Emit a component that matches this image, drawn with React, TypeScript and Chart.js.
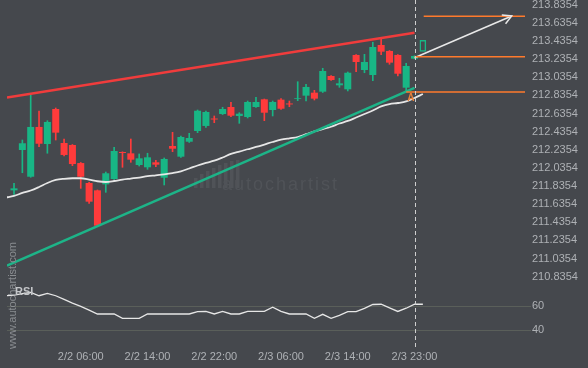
import { useEffect, useRef } from 'react';
import { Chart, registerables } from 'chart.js';

Chart.register(...registerables);

// ---------- data ----------
const TIME_LABELS = ['2/2 06:00', '2/2 14:00', '2/2 22:00', '2/3 06:00', '2/3 14:00', '2/3 23:00'];
const TIME_LABEL_INDEX = [8, 16, 24, 32, 40, 48];
const PRICE_TICKS = [213.8354, 213.6354, 213.4354, 213.2354, 213.0354, 212.8354, 212.6354, 212.4354, 212.2354, 212.0354, 211.8354, 211.6354, 211.4354, 211.2354, 211.0354, 210.8354];
const RSI_TICKS = [60, 40];

const OPEN = [211.788, 212.233, 211.938, 212.487, 212.299, 212.685, 212.310, 212.288, 212.089, 211.869, 211.788, 211.854, 211.913, 212.211, 212.196, 212.067, 212.042, 212.097, 211.927, 212.277, 212.159, 212.324, 212.442, 212.498, 212.580, 212.630, 212.707, 212.608, 212.597, 212.707, 212.792, 212.674, 212.788, 212.746, 212.798, 212.832, 212.865, 212.876, 213.049, 212.946, 212.902, 213.281, 213.115, 213.060, 213.391, 213.325, 213.281, 212.920, 213.240];
const HIGH = [211.866, 212.343, 212.839, 212.663, 212.556, 212.696, 212.354, 212.293, 212.095, 211.875, 211.792, 211.990, 212.263, 212.213, 212.354, 212.189, 212.197, 212.119, 212.145, 212.428, 212.387, 212.417, 212.674, 212.663, 212.608, 212.704, 212.759, 212.644, 212.773, 212.814, 212.795, 212.773, 212.799, 212.773, 212.986, 212.957, 212.891, 213.134, 213.054, 213.024, 213.093, 213.286, 213.288, 213.421, 213.460, 213.330, 213.286, 213.189, 213.272];
const LOW = [211.744, 211.982, 211.932, 212.269, 212.197, 212.343, 212.167, 212.060, 211.810, 211.645, 211.395, 211.766, 211.907, 212.042, 212.097, 212.056, 212.020, 212.049, 211.847, 212.214, 212.150, 212.316, 212.424, 212.483, 212.534, 212.624, 212.600, 212.527, 212.586, 212.702, 212.556, 212.608, 212.679, 212.710, 212.777, 212.773, 212.784, 212.867, 213.000, 212.924, 212.884, 213.096, 213.085, 212.997, 213.284, 213.178, 213.049, 212.884, 213.238];
const CLOSE = [211.810, 212.307, 212.487, 212.302, 212.542, 212.424, 212.178, 212.078, 211.938, 211.663, 211.398, 211.976, 212.222, 212.200, 212.126, 212.141, 212.152, 212.071, 212.134, 212.247, 212.376, 212.365, 212.666, 212.652, 212.569, 212.685, 212.611, 212.633, 212.762, 212.762, 212.644, 212.762, 212.688, 212.735, 212.806, 212.928, 212.799, 213.104, 213.005, 212.968, 213.085, 213.203, 213.203, 213.369, 213.317, 213.196, 213.074, 213.159, 213.270];

// moving average and RSI, from index -1 to 49
const SERIES_START = -1;
const MOVING_AVG = [211.709, 211.726, 211.759, 211.786, 211.825, 211.869, 211.902, 211.915, 211.921, 211.921, 211.907, 211.888, 211.880, 211.891, 211.907, 211.918, 211.929, 211.944, 211.954, 211.965, 211.979, 211.998, 212.029, 212.062, 212.090, 212.115, 212.150, 212.189, 212.216, 212.241, 212.266, 212.293, 212.321, 212.346, 212.362, 212.376, 212.407, 212.437, 212.464, 212.489, 212.525, 212.553, 212.591, 212.630, 212.668, 212.713, 212.740, 212.751, 212.768, 212.806, 212.850];
const RSI_VALUES = [68.8, 69.3, 70.6, 71.5, 68.8, 70.8, 68.8, 65.8, 62.6, 59.9, 56.8, 53.6, 53.6, 53.6, 50.0, 50.0, 50.0, 53.6, 53.6, 53.6, 53.6, 53.6, 53.6, 55.6, 55.8, 53.6, 55.8, 53.6, 53.6, 55.8, 55.8, 55.8, 59.2, 55.8, 53.6, 53.6, 53.6, 50.0, 53.3, 50.0, 52.5, 55.5, 55.5, 58.2, 61.5, 61.7, 58.7, 55.7, 58.4, 61.7, 61.7];

const RESISTANCE_X = [-0.84, 48];
const RESISTANCE_Y = [212.812, 213.526];
const SUPPORT_X = [-0.84, 48];
const SUPPORT_Y = [210.957, 212.917];

const LEVEL_VALUES = [213.707, 213.262, 212.873];
const LEVEL_START = [49.1, 48, 47];

const FORECAST_X = 49;
const FORECAST_RANGE = [213.317, 213.446];

const ARROW_X = [48, 59.65];
const ARROW_Y = [213.25, 213.711];

const NOW_INDEX = 48;
const MARKER = { x: 47.55, y: 212.80, text: 'A' };

// ---------- styles ----------
const BG = '#45484d';
const GREEN = '#18b685';
const RED = '#ff3b3b';
const ORANGE = '#ff7a2c';
const TEXT = '#aeb1b5';
const FONT = "'Liberation Sans', Arial, sans-serif";
const XMIN = -0.84;
const XMAX = 61.24;

export default function App() {
  const ref = useRef<HTMLCanvasElement | null>(null);

  useEffect(() => {
    document.body.style.margin = '0';
    document.body.style.background = BG;
    const canvas = ref.current;
    if (!canvas) return;

    const idx = OPEN.map((_, i) => i);
    const colors = idx.map((i) => (CLOSE[i] >= OPEN[i] ? GREEN : RED));

    const extras = {
      id: 'extras',
      beforeDatasetsDraw(chart: any) {
        const ctx = chart.ctx;
        ctx.save();
        // watermark logo bars
        ctx.fillStyle = '#505358';
        const heights = [10, 14, 17, 20, 23, 25, 27, 28];
        heights.forEach((h, k) => {
          ctx.fillRect(194 + k * 6, 188 - h, 3.5, h);
        });
        ctx.font = `18px ${FONT}`;
        (ctx as any).letterSpacing = '2px';
        ctx.textBaseline = 'alphabetic';
        ctx.textAlign = 'left';
        ctx.fillText('autochartist', 222, 190);
        (ctx as any).letterSpacing = '0px';
        ctx.restore();
      },
      afterDatasetsDraw(chart: any) {
        const ctx = chart.ctx;
        const xs = chart.scales.x;
        const ys = chart.scales.y;
        ctx.save();
        // dashed "now" line
        const nx = Math.round(xs.getPixelForValue(NOW_INDEX)) + 0.5;
        ctx.strokeStyle = '#cfcfcf';
        ctx.lineWidth = 1;
        ctx.setLineDash([4, 3]);
        ctx.beginPath();
        ctx.moveTo(nx, 0);
        ctx.lineTo(nx, chart.chartArea.bottom + 5);
        ctx.stroke();
        ctx.setLineDash([]);
        // arrow head
        const sx = xs.getPixelForValue(ARROW_X[0]);
        const sy = ys.getPixelForValue(ARROW_Y[0]);
        const tx = xs.getPixelForValue(ARROW_X[1]);
        const ty = ys.getPixelForValue(ARROW_Y[1]);
        const ang = Math.atan2(ty - sy, tx - sx);
        ctx.strokeStyle = '#e8e8e8';
        ctx.lineWidth = 1.5;
        ctx.beginPath();
        ctx.moveTo(tx - 10 * Math.cos(ang - 0.5), ty - 10 * Math.sin(ang - 0.5));
        ctx.lineTo(tx, ty);
        ctx.lineTo(tx - 10 * Math.cos(ang + 0.5), ty - 10 * Math.sin(ang + 0.5));
        ctx.stroke();
        // pattern marker
        ctx.fillStyle = '#e8803a';
        ctx.font = `bold 10px ${FONT}`;
        ctx.textAlign = 'center';
        ctx.textBaseline = 'middle';
        ctx.fillText(MARKER.text, xs.getPixelForValue(MARKER.x), ys.getPixelForValue(MARKER.y));
        // vertical site text
        ctx.save();
        ctx.translate(13, 349);
        ctx.rotate(-Math.PI / 2);
        ctx.fillStyle = '#8a8d91';
        ctx.font = `11px ${FONT}`;
        ctx.textAlign = 'left';
        ctx.textBaseline = 'middle';
        ctx.fillText('www.autochartist.com', 0, 0);
        ctx.restore();
        // RSI label
        ctx.fillStyle = '#c4c6c9';
        ctx.font = `bold 11px ${FONT}`;
        ctx.textAlign = 'left';
        ctx.textBaseline = 'middle';
        ctx.fillText('RSI', 15, 292);
        ctx.restore();
      },
    };

    const lineBase = { type: 'line', pointRadius: 0, pointHoverRadius: 0, tension: 0, xAxisID: 'x' };

    const chart = new Chart(canvas, {
      type: 'bar',
      data: {
        datasets: [
          { ...lineBase, label: 'resistance', yAxisID: 'y', order: 1, borderColor: '#f03c3c', borderWidth: 2.5,
            data: RESISTANCE_X.map((x, k) => ({ x, y: RESISTANCE_Y[k] })) },
          { ...lineBase, label: 'support', yAxisID: 'y', order: 1, borderColor: '#1db488', borderWidth: 2.5,
            data: SUPPORT_X.map((x, k) => ({ x, y: SUPPORT_Y[k] })) },
          { ...lineBase, label: 'ma', yAxisID: 'y', order: 1, borderColor: '#e6e6e6', borderWidth: 1.8, cubicInterpolationMode: 'monotone',
            data: MOVING_AVG.map((v, k) => ({ x: SERIES_START + k, y: v })) },
          ...LEVEL_VALUES.map((v, k) => ({ ...lineBase, label: 'level' + k, yAxisID: 'y', order: 0, borderColor: ORANGE, borderWidth: 1.5,
            data: [{ x: LEVEL_START[k], y: v }, { x: XMAX, y: v }] })),
          { ...lineBase, label: 'arrow', yAxisID: 'y', order: 0, borderColor: '#e8e8e8', borderWidth: 1.5,
            data: ARROW_X.map((x, k) => ({ x, y: ARROW_Y[k] })) },
          { ...lineBase, label: 'rsi', yAxisID: 'rsi', order: 1, borderColor: '#e6e6e6', borderWidth: 1.3,
            data: RSI_VALUES.map((v, k) => ({ x: SERIES_START + k, y: v })) },
          { type: 'bar', label: 'wicks', yAxisID: 'y', xAxisID: 'x', order: 3, grouped: false, barThickness: 1,
            backgroundColor: colors, data: idx.map((i) => ({ x: i, y: [LOW[i], HIGH[i]] })) },
          { type: 'bar', label: 'bodies', yAxisID: 'y', xAxisID: 'x', order: 2, grouped: false, barPercentage: 0.84, categoryPercentage: 1,
            backgroundColor: colors, data: idx.map((i) => ({ x: i, y: [OPEN[i], CLOSE[i]] })) },
          { type: 'bar', label: 'forecast', yAxisID: 'y', xAxisID: 'x', order: 2, grouped: false, barPercentage: 0.8, categoryPercentage: 1,
            backgroundColor: 'rgba(0,0,0,0)', borderColor: GREEN, borderWidth: 1.5, borderSkipped: false,
            data: [{ x: FORECAST_X, y: FORECAST_RANGE }] },
        ] as any,
      },
      options: {
        responsive: false,
        animation: false,
        events: [],
        layout: { padding: { left: 7, right: 0, top: 0, bottom: 0 } },
        plugins: { legend: { display: false }, tooltip: { enabled: false } },
        scales: {
          x: {
            type: 'linear', min: XMIN, max: XMAX, offset: false,
            grid: { display: false, drawTicks: false }, border: { display: false },
            afterBuildTicks: (s: any) => { s.ticks = TIME_LABEL_INDEX.map((v) => ({ value: v })); },
            afterFit: (s: any) => { s.height = 23; s.paddingLeft = 0; s.paddingRight = 0; },
            ticks: {
              color: TEXT, padding: 5, maxRotation: 0, autoSkip: false, font: { size: 11, family: FONT },
              callback: (v: any) => { const k = TIME_LABEL_INDEX.indexOf(Number(v)); return k >= 0 ? TIME_LABELS[k] : ''; },
            },
          },
          y: {
            type: 'linear', position: 'right', stack: 'panes', stackWeight: 285,
            min: 210.744, max: 213.887,
            grid: { display: false, drawTicks: false }, border: { display: false },
            afterBuildTicks: (s: any) => { s.ticks = PRICE_TICKS.map((v) => ({ value: v })); },
            afterFit: (s: any) => { s.width = 63; s.paddingTop = 0; s.paddingBottom = 0; },
            ticks: { color: TEXT, padding: 7, autoSkip: false, font: { size: 11, family: FONT }, callback: (v: any) => Number(v).toFixed(4) },
          },
          rsi: {
            type: 'linear', position: 'right', stack: 'panes', stackWeight: 60,
            min: 27.75, max: 77.75,
            grid: { display: true, color: '#5a5f5a', lineWidth: 1, drawTicks: true, tickLength: 6 }, border: { display: false },
            afterBuildTicks: (s: any) => { s.ticks = RSI_TICKS.map((v) => ({ value: v })); },
            afterFit: (s: any) => { s.width = 63; s.paddingTop = 0; s.paddingBottom = 0; },
            ticks: { color: TEXT, padding: 1, autoSkip: false, font: { size: 11, family: FONT }, callback: (v: any) => String(v) },
          },
        } as any,
      },
      plugins: [extras],
    } as any);

    return () => chart.destroy();
  }, []);

  return (
    <div style={{ width: 588, height: 368, background: BG, overflow: 'hidden' }}>
      <canvas ref={ref} width={588} height={368} style={{ display: 'block' }} />
    </div>
  );
}
